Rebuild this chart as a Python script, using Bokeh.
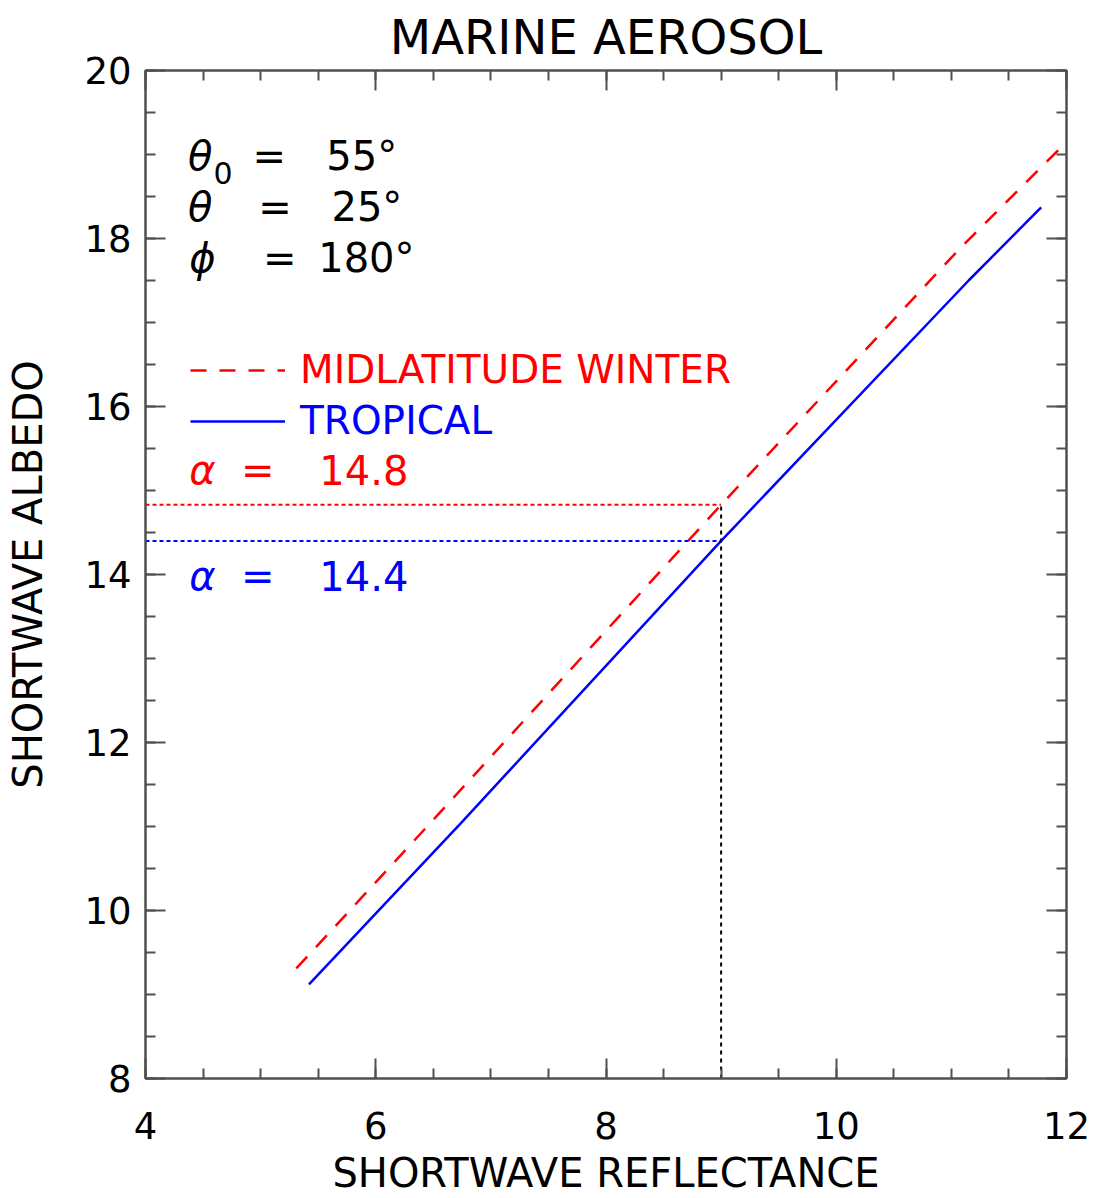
from bokeh.plotting import figure
from bokeh.models import LinearAxis, FixedTicker, Label, Legend, LegendItem
from bokeh.embed import file_html
from bokeh.resources import INLINE

# ---- data ----
refl_mlw = [5.31, 6.48, 9.0, 11.08, 12.0]
alb_mlw = [9.31, 11.05, 14.83, 17.89, 19.15]
refl_trop = [5.42, 6.74, 9.0, 11.15, 11.78]
alb_trop = [9.12, 11.04, 14.40, 17.50, 18.37]
ref_reflectance = 9.0
alpha_mlw = 14.83
alpha_trop = 14.40
x_ticks = [4, 6, 8, 10, 12]
y_ticks = [8, 10, 12, 14, 16, 18, 20]
x_minor = [4 + 0.5 * i for i in range(17)]
y_minor = [8 + 0.5 * i for i in range(25)]
title_text = "MARINE AEROSOL"

FONT = "DejaVu Sans"
AX = "#505050"

p = figure(width=1097, height=1198, x_range=(4, 12), y_range=(8, 20),
           output_backend="svg", toolbar_location=None,
           min_border_left=145, min_border_right=31, min_border_top=70,
           min_border_bottom=120, title=title_text)
p.background_fill_color = "white"
p.border_fill_color = "white"
p.xgrid.visible = False
p.ygrid.visible = False
p.outline_line_color = AX
p.outline_line_width = 2

p.title.align = "center"
p.title.text_font = FONT
p.title.text_font_size = "48px"
p.title.text_font_style = "normal"
p.title.text_color = "black"
p.title.standoff = 11


def style_axis(ax, ticks, minor, show_labels):
    ax.ticker = FixedTicker(ticks=ticks, minor_ticks=minor)
    ax.axis_line_color = AX
    ax.axis_line_width = 2
    ax.major_tick_line_color = AX
    ax.major_tick_line_width = 2
    ax.minor_tick_line_color = AX
    ax.minor_tick_line_width = 2
    ax.major_tick_in = 20
    ax.major_tick_out = 0
    ax.minor_tick_in = 10
    ax.minor_tick_out = 0
    ax.major_label_text_font = FONT
    ax.major_label_text_color = "black"
    ax.axis_label_text_font = FONT
    ax.axis_label_text_font_style = "normal"
    ax.axis_label_text_color = "black"
    if show_labels:
        ax.major_label_text_font_size = "37px"
        ax.axis_label_text_font_size = "40px"
    else:
        ax.major_label_overrides = {t: "" for t in ticks}
        ax.major_label_text_font_size = "1px"
        ax.major_label_standoff = 0


xa = p.xaxis[0]
ya = p.yaxis[0]
style_axis(xa, x_ticks, x_minor, True)
style_axis(ya, y_ticks, y_minor, True)
xa.axis_label = "SHORTWAVE REFLECTANCE"
ya.axis_label = "SHORTWAVE ALBEDO"
xa.major_label_standoff = 33
xa.axis_label_standoff = 8
ya.major_label_standoff = 14
ya.axis_label_standoff = 30

top = LinearAxis()
style_axis(top, x_ticks, x_minor, False)
p.add_layout(top, "above")
right = LinearAxis()
style_axis(right, y_ticks, y_minor, False)
p.add_layout(right, "right")

# ---- curves ----
r_red = p.line(refl_mlw, alb_mlw, line_color="red", line_width=2.5, line_dash="16 13")
r_blue = p.line(refl_trop, alb_trop, line_color="blue", line_width=2.5)

# ---- reference dotted lines ----
p.segment(x0=[x_ticks[0]], x1=[ref_reflectance], y0=[alpha_mlw], y1=[alpha_mlw],
          line_color="red", line_width=2, line_dash="4 3")
p.segment(x0=[x_ticks[0]], x1=[ref_reflectance], y0=[alpha_trop], y1=[alpha_trop],
          line_color="blue", line_width=2, line_dash="4 3")
p.segment(x0=[ref_reflectance], x1=[ref_reflectance], y0=[y_ticks[0]], y1=[alpha_mlw],
          line_color="black", line_width=2, line_dash="4 4")

# ---- legends ----
for r, lab, col, loc in [(r_red, "MIDLATITUDE WINTER", "red", (45, 686)),
                         (r_blue, "TROPICAL", "blue", (45, 635))]:
    lg = Legend(items=[LegendItem(label=lab, renderers=[r])], location=loc,
                label_text_color=col, label_text_font=FONT,
                label_text_font_size="39px", glyph_width=95, glyph_height=40,
                label_height=40, label_standoff=15, padding=0, margin=0,
                border_line_color=None, background_fill_alpha=0)
    p.add_layout(lg)


def lab(x, y, text, color="black", size="40px", style="normal", align="left"):
    p.add_layout(Label(x=x, y=y, text=text, text_color=color, text_font=FONT,
                       text_font_size=size, text_font_style=style,
                       text_align=align, text_baseline="alphabetic"))


# angle annotations
lab(4.37, 18.98, "θ", style="italic")
lab(4.59, 18.78, "0", size="30px")
lab(4.93, 18.98, "=")
lab(5.57, 18.98, "55°")
lab(4.37, 18.38, "θ", style="italic")
lab(4.98, 18.38, "=")
lab(5.615, 18.38, "25°")
lab(4.38, 17.77, "ϕ", style="italic")
lab(5.02, 17.77, "=")
lab(5.50, 17.77, "180°")

# albedo annotations
lab(4.38, 15.25, "α", color="red", style="italic")
lab(4.83, 15.25, "=", color="red")
lab(5.51, 15.25, "%.1f" % alpha_mlw, color="red")
lab(4.38, 13.98, "α", color="blue", style="italic")
lab(4.83, 13.98, "=", color="blue")
lab(5.51, 13.98, "%.1f" % alpha_trop, color="blue")

open("out.html", "w").write(file_html(p, INLINE))
